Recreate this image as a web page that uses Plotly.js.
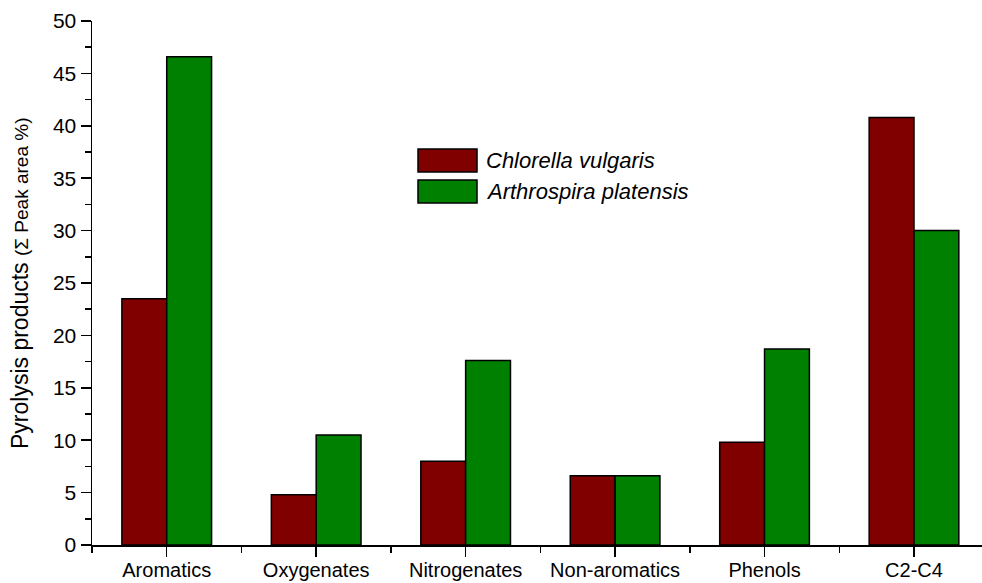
<!DOCTYPE html>
<html>
<head>
<meta charset="utf-8">
<script src="https://cdn.plot.ly/plotly-3.0.1.min.js"></script>
<style>html,body{margin:0;padding:0;background:#fff;}#chart{width:982px;height:583px;}</style>
</head>
<body>
<div id="chart"></div>
<script>
const categories = ["Aromatics", "Oxygenates", "Nitrogenates", "Non-aromatics", "Phenols", "C2-C4"];
const chlorella = [23.5, 4.8, 8.0, 6.6, 9.8, 40.8];
const arthrospira = [46.6, 10.5, 17.6, 6.6, 18.7, 30.0];
const seriesNames = ["Chlorella vulgaris", "Arthrospira platensis"];
const seriesColors = ["#800000", "#008000"];
const yTitle = "Pyrolysis products <span style='font-size:19px'>(Σ Peak area %)</span>";

const xIdx = categories.map((_, i) => i);
const boundaries = categories.map((_, i) => i - 0.5).concat([categories.length - 0.5]);

const traces = [chlorella, arthrospira].map((vals, k) => ({
  type: "bar",
  x: xIdx,
  y: vals,
  name: seriesNames[k],
  marker: {color: seriesColors[k], line: {color: "#000", width: 1.5}},
  showlegend: false,
  hoverinfo: "y"
}));

const FONT = "Liberation Sans, Arial, sans-serif";

// custom legend (paper coordinates)
const legendRows = [
  {y0: 0.7118, y1: 0.7557},
  {y0: 0.6527, y1: 0.6966}
];
const shapes = legendRows.map((r, k) => ({
  type: "rect", xref: "paper", yref: "paper",
  x0: 0.3663, x1: 0.4326, y0: r.y0, y1: r.y1,
  fillcolor: seriesColors[k], line: {color: "#000", width: 1.5}
}));
const annotations = legendRows.map((r, k) => ({
  xref: "paper", yref: "paper", x: 0.4404, y: (r.y0 + r.y1) / 2,
  xanchor: "left", yanchor: "middle", showarrow: false,
  text: "<i>" + seriesNames[k] + "</i>",
  font: {family: FONT, size: 22, color: "#000"}
}));
annotations.push({
  xref: "paper", yref: "paper", x: -0.0809, y: 0.5,
  xanchor: "center", yanchor: "middle", textangle: -90, showarrow: false,
  text: yTitle,
  font: {family: FONT, size: 23, color: "#000"}
});

const layout = {
  width: 982, height: 583,
  margin: {l: 92, r: 0, t: 21, b: 38, autoexpand: false},
  paper_bgcolor: "#fff", plot_bgcolor: "#fff",
  font: {family: FONT, color: "#000"},
  barmode: "group", bargap: 0.4, bargroupgap: 0,
  xaxis: {
    type: "linear",
    range: [-0.5, 5.455],
    tickmode: "array", tickvals: xIdx, ticktext: categories,
    ticks: "outside", ticklen: 10, tickwidth: 1.5, tickcolor: "#000",
    minor: {tickmode: "array", tickvals: boundaries, ticks: "outside", ticklen: 6, tickwidth: 1.5, tickcolor: "#000", showgrid: false},
    showline: true, linecolor: "#000", linewidth: 1.5,
    showgrid: false, zeroline: false, automargin: false,
    ticklabelstandoff: -4,
    tickfont: {family: FONT, size: 20, color: "#000"}
  },
  yaxis: {
    range: [0, 50], dtick: 5, tick0: 0,
    ticks: "outside", ticklen: 10, tickwidth: 1.5, tickcolor: "#000",
    minor: {dtick: 2.5, ticks: "outside", ticklen: 6, tickwidth: 1.5, tickcolor: "#000", showgrid: false},
    showline: true, linecolor: "#000", linewidth: 1.5,
    showgrid: false, zeroline: false, automargin: false,
    tickfont: {family: FONT, size: 21, color: "#000"}
  },
  shapes: shapes,
  annotations: annotations
};

Plotly.newPlot("chart", traces, layout, {displayModeBar: false, staticPlot: true});
</script>
</body>
</html>
